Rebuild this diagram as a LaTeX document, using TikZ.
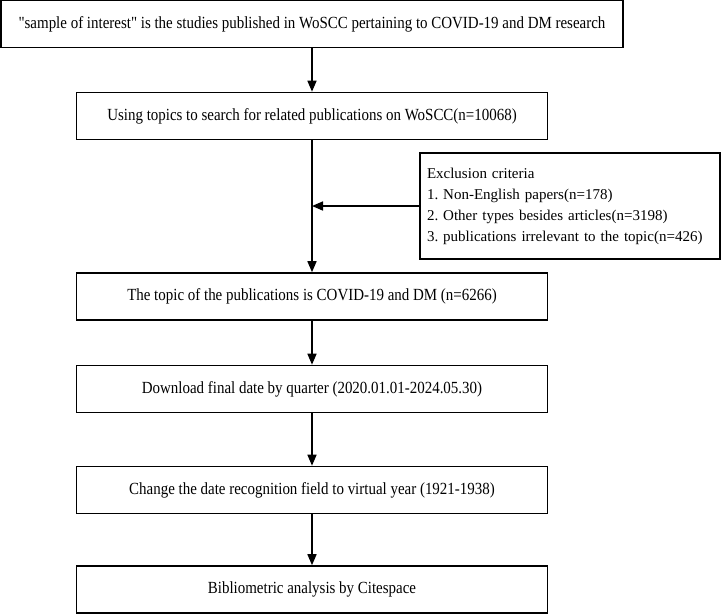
\documentclass[tikz,border=0pt]{standalone}
\usepackage{fontspec}
\setmainfont{Liberation Serif}
\newfontfamily\narrowserif[FakeStretch=0.88]{Liberation Serif}
\usetikzlibrary{positioning,
        arrows.meta}
\frenchspacing

\begin{document}
\begin{tikzpicture}[x=1pt,y=-1pt,
    flowbox/.style={rectangle,draw,line width=1.6pt,minimum width=471pt,minimum height=47pt,inner sep=0pt,font=\narrowserif\fontsize{17}{20}\selectfont},
    critbox/.style={rectangle,draw,line width=1.6pt,minimum height=106pt,text width=286pt,inner sep=7pt,align=left,font=\fontsize{15}{21}\selectfont},
    flow/.style={-{Triangle[length=11pt,width=9pt]},line width=1.6pt}]
    \useasboundingbox (0,0) rectangle (721,614);

    \node [flowbox,minimum width=622pt] (sample) at (312,24) {"sample of interest" is the studies published in WoSCC pertaining to COVID-19 and DM research};
    \node [flowbox] (search) at (312,116) {Using topics to search for related publications on WoSCC(n=10068)};
    \node [critbox] (crit) at (570,206) {Exclusion criteria\\1. Non-English papers(n=178)\\2. Other types besides articles(n=3198)\\3. publications irrelevant to the topic(n=426)};
    \node [flowbox] (topic) at (312,296.5) {The topic of the publications is COVID-19 and DM (n=6266)};
    \node [flowbox] (download) at (312,389) {Download final date by quarter (2020.01.01-2024.05.30)};
    \node [flowbox] (change) at (312,490) {Change the date recognition field to virtual year (1921-1938)};
    \node [flowbox] (biblio) at (312,589.5) {Bibliometric analysis by Citespace};
    \coordinate (join) at (search.south |- crit.west);

    \draw [flow] (sample) -- (search);
    \draw [flow] (search) -- (topic);
    \draw [flow] (crit.west) -- (join);
    \draw [flow] (topic) -- (download);
    \draw [flow] (download) -- (change);
    \draw [flow] (change) -- (biblio);
\end{tikzpicture}
\end{document}
